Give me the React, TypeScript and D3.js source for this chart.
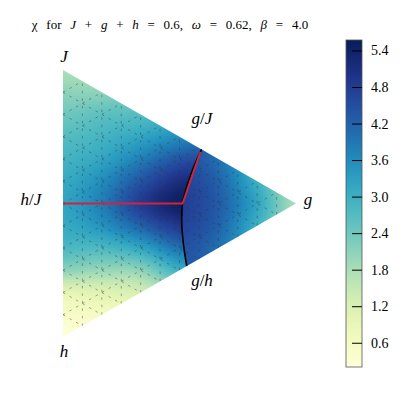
import React from "react";
import * as d3 from "d3";

// ---- data ----
// left-of-boundary field: columns g, rows d = J - h
const G_COLS_L = [0, 0.1, 0.2, 0.3, 0.4];
const D_ROWS_L = [0.6, 0.5, 0.4, 0.3, 0.2, 0.1, 0, -0.1, -0.2, -0.3, -0.4, -0.5, -0.6];
const CHI_LEFT = [
  [1.8, 1.8, 1.9, 2.0, 2.1],
  [2.1, 2.1, 2.3, 2.4, 2.5],
  [2.4, 2.6, 2.7, 2.9, 3.0],
  [2.7, 2.9, 3.2, 3.6, 3.8],
  [2.9, 3.2, 3.8, 4.4, 4.6],
  [3.1, 3.6, 4.4, 5.1, 5.3],
  [3.2, 3.8, 4.8, 5.5, 5.7],
  [3.1, 3.5, 4.2, 4.9, 5.1],
  [2.8, 2.8, 3.2, 4.0, 4.2],
  [2.1, 2.0, 2.1, 3.0, 3.4],
  [1.0, 1.1, 1.3, 1.9, 2.2],
  [0.5, 0.6, 0.8, 1.2, 1.5],
  [0.22, 0.35, 0.5, 0.8, 1.0],
];
// right-of-boundary field
const G_COLS_R = [0.3, 0.4, 0.5, 0.6];
const D_ROWS_R = [0.3, 0.2, 0.1, 0, -0.1, -0.2, -0.3];
const CHI_RIGHT = [
  [4.4, 3.9, 2.8, 1.8],
  [4.5, 4.0, 2.9, 1.8],
  [4.7, 4.2, 3.0, 1.8],
  [4.8, 4.3, 3.2, 1.8],
  [4.7, 4.2, 3.0, 1.8],
  [4.5, 4.0, 2.9, 1.8],
  [4.4, 3.9, 2.8, 1.8],
];
// phase boundary (black curve)
const BOUNDARY_G = [0.357, 0.3305, 0.308, 0.3057, 0.3098, 0.3185];
const BOUNDARY_D = [0.2436, 0.1371, 0.0, -0.0876, -0.1775, -0.2809];
// red path
const RED_G = [0, 0.308, 0.354];
const RED_D = [0, 0, 0.232];

const CB_TICKS = [0.6, 1.2, 1.8, 2.4, 3.0, 3.6, 4.2, 4.8, 5.4];
const CHI_MIN = 0.21;
const CHI_MAX = 5.58;

// ---- helpers ----
function cr(xs: number[], ys: number[], x: number) {
  const n = xs.length;
  let fi = (x - xs[0]) / (xs[1] - xs[0]);
  fi = Math.max(0, Math.min(n - 1, fi));
  let i = Math.floor(fi);
  if (i > n - 2) i = n - 2;
  const t = fi - i;
  const p0 = ys[Math.max(i - 1, 0)];
  const p1 = ys[i];
  const p2 = ys[i + 1];
  const p3 = ys[Math.min(i + 2, n - 1)];
  return 0.5 * (2 * p1 + (-p0 + p2) * t + (2 * p0 - 5 * p1 + 4 * p2 - p3) * t * t + (-p0 + 3 * p1 - 3 * p2 + p3) * t * t * t);
}
function field(cols: number[], rows: number[], grid: number[][], g: number, d: number) {
  const rv = grid.map((row) => cr(cols, row, g));
  return cr(rows, rv, d);
}
function boundaryG(d: number) {
  const n = BOUNDARY_D.length;
  if (d >= BOUNDARY_D[0]) return BOUNDARY_G[0];
  if (d <= BOUNDARY_D[n - 1]) return BOUNDARY_G[n - 1];
  for (let i = 0; i < n - 1; i++) {
    if (d <= BOUNDARY_D[i] && d >= BOUNDARY_D[i + 1]) {
      const t = (d - BOUNDARY_D[i]) / (BOUNDARY_D[i + 1] - BOUNDARY_D[i]);
      return BOUNDARY_G[i] + t * (BOUNDARY_G[i + 1] - BOUNDARY_G[i]);
    }
  }
  return BOUNDARY_G[n - 1];
}
function chi(g: number, d: number) {
  if (g < boundaryG(d)) return field(G_COLS_L, D_ROWS_L, CHI_LEFT, g, d);
  return field(G_COLS_R, D_ROWS_R, CHI_RIGHT, g, d);
}

const xS = d3.scaleLinear().domain([0, 0.6]).range([63, 296]);
const yS = d3.scaleLinear().domain([-0.6, 0.6]).range([337, 70]);
const cS = d3.scaleLinear().domain([CHI_MIN, CHI_MAX]).range([0, 1]).clamp(true);
const color = (v: number) => d3.interpolateYlGnBu(cS(v));
const cbY = d3.scaleLinear().domain([CHI_MIN, CHI_MAX]).range([367, 40]);

const SERIF = "Liberation Serif";

export default function App() {
  const J = [xS(0), yS(0.6)];
  const H = [xS(0), yS(-0.6)];
  const Gp = [xS(0.6), yS(0)];
  const triPath = `M${J[0]},${J[1]}L${Gp[0]},${Gp[1]}L${H[0]},${H[1]}Z`;

  const step = 2;
  const cells: { x: number; y: number; c: string }[] = [];
  for (let px = J[0]; px < Gp[0]; px += step) {
    for (let py = J[1]; py < H[1]; py += step) {
      const g = xS.invert(px + step / 2);
      const d = yS.invert(py + step / 2);
      if (Math.abs(d) > 0.6 - g + 0.02) continue;
      cells.push({ x: px, y: py, c: color(chi(g, d)) });
    }
  }

  const N = 12;
  const mesh: string[] = [];
  const bary = (a: number, b: number) => {
    const g = a * 0.6;
    const Jv = b * 0.6;
    const h = 0.6 - g - Jv;
    return [xS(g), yS(Jv - h)];
  };
  for (let k = 1; k < N; k++) {
    const f = k / N;
    let p1 = bary(f, 0), p2 = bary(f, 1 - f);
    mesh.push(`M${p1[0]},${p1[1]}L${p2[0]},${p2[1]}`);
    p1 = bary(0, f); p2 = bary(1 - f, f);
    mesh.push(`M${p1[0]},${p1[1]}L${p2[0]},${p2[1]}`);
    p1 = bary(0, 1 - f); p2 = bary(1 - f, 0);
    mesh.push(`M${p1[0]},${p1[1]}L${p2[0]},${p2[1]}`);
  }

  const boundaryLine = d3
    .line<number>()
    .x((_, i) => xS(BOUNDARY_G[i]))
    .y((_, i) => yS(BOUNDARY_D[i]))
    .curve(d3.curveCatmullRom)(BOUNDARY_G);
  const redLine = d3
    .line<number>()
    .x((_, i) => xS(RED_G[i]))
    .y((_, i) => yS(RED_D[i]))(RED_G);

  const stops = d3.range(0, 1.0001, 0.05);
  const it: React.CSSProperties = { fontStyle: "italic" };
  const up: React.CSSProperties = { fontStyle: "normal" };

  return (
    <svg width={408} height={408} style={{ position: "absolute", left: 0, top: 0, background: "#fff" }}>
      <defs>
        <clipPath id="tri">
          <path d={triPath} />
        </clipPath>
        <linearGradient id="cb" x1="0" y1="1" x2="0" y2="0">
          {stops.map((t) => (
            <stop key={t} offset={t} stopColor={d3.interpolateYlGnBu(t)} />
          ))}
        </linearGradient>
      </defs>
      <text x={170} y={29} fontFamily={SERIF} fontSize={13} textAnchor="middle" style={{ wordSpacing: "5.5px" }}>
        χ for <tspan style={it}>J</tspan> + <tspan style={it}>g</tspan> + <tspan style={it}>h</tspan> = 0.6, <tspan style={it}>ω</tspan> = 0.62, <tspan style={it}>β</tspan> = 4.0
      </text>
      <g clipPath="url(#tri)">
        {cells.map((c, i) => (
          <rect key={i} x={c.x} y={c.y} width={step + 0.3} height={step + 0.3} fill={c.c} shapeRendering="crispEdges" />
        ))}
        {mesh.map((p, i) => (
          <path key={i} d={p} stroke="#333" strokeWidth={0.8} strokeOpacity={0.55} strokeDasharray="2.5,5" fill="none" />
        ))}
      </g>
      <path d={boundaryLine || ""} stroke="#000" strokeWidth={1.6} fill="none" />
      <path d={redLine || ""} stroke="#d42238" strokeWidth={2} fill="none" />

      <g fontFamily={SERIF} fontSize={17} fontStyle="italic" fill="#000">
        <text x={64} y={62} textAnchor="middle">J</text>
        <text x={31} y={205} textAnchor="middle">h<tspan style={up}>/</tspan>J</text>
        <text x={202} y={124} textAnchor="middle">g<tspan style={up}>/</tspan>J</text>
        <text x={202} y={286} textAnchor="middle">g<tspan style={up}>/</tspan>h</text>
        <text x={308} y={205} textAnchor="middle">g</text>
        <text x={64} y={357} textAnchor="middle">h</text>
      </g>

      <rect x={346} y={40} width={16} height={327} fill="url(#cb)" stroke="#555" strokeWidth={0.8} />
      {CB_TICKS.map((t) => (
        <g key={t}>
          <line x1={352} x2={362} y1={cbY(t)} y2={cbY(t)} stroke="#000" strokeWidth={1} />
          <text x={371} y={cbY(t) + 4.5} fontFamily={SERIF} fontSize={14}>
            {t.toFixed(1)}
          </text>
        </g>
      ))}
    </svg>
  );
}
